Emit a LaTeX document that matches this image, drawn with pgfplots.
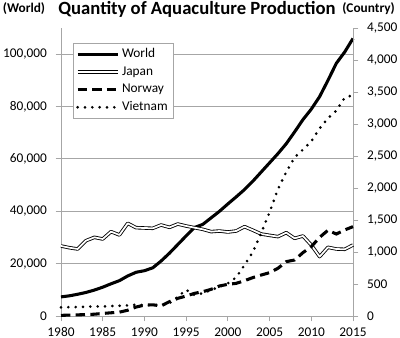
\documentclass[border=0pt]{standalone}
\usepackage{pgfplots}
\pgfplotsset{compat=1.18}
\usepackage{pgfplotstable}
\usepackage{fontspec}
\setmainfont{Carlito}
\definecolor{axgray}{HTML}{A6A6A6}
\pgfplotstableread{
year world
1980 7300
1981 7700
1982 8300
1983 9000
1984 9900
1985 11000
1986 12300
1987 13500
1988 15300
1989 16700
1990 17300
1991 18400
1992 21000
1993 24000
1994 27300
1995 30600
1996 33800
1997 35000
1998 37500
1999 40000
2000 42800
2001 45500
2002 48300
2003 51500
2004 55000
2005 58500
2006 62000
2007 65800
2008 70300
2009 75000
2010 79000
2011 83800
2012 90000
2013 96500
2014 100800
2015 106000
}\worlddata
\pgfplotstableread{
year japan norway vietnam
1980 1094 10 135
1981 1067 14 138
1982 1047 18 140
1983 1177 22 145
1984 1229 28 150
1985 1203 40 150
1986 1318 50 155
1987 1266 60 160
1988 1448 90 165
1989 1380 140 175
1990 1375 170 170
1991 1370 175 168
1992 1422 158 170
1993 1385 224 200
1994 1437 276 300
1995 1406 312 410
1996 1380 354 328
1997 1354 380 354
1998 1318 417 406
1999 1328 469 458
2000 1312 495 510
2001 1328 510 604
2002 1396 552 797
2003 1340 600 1000
2004 1281 640 1300
2005 1260 677 1620
2006 1240 745 1980
2007 1302 849 2250
2008 1213 875 2480
2009 1250 990 2600
2010 1109 1083 2730
2011 927 1229 2930
2012 1073 1340 3090
2013 1047 1281 3210
2014 1042 1344 3410
2015 1109 1396 3450
}\countrydata
\pgfplotsset{
  common/.style={
    at={(45.75pt,16.5pt)}, anchor=south west,
    scale only axis, width=219pt, height=216pt,
    xmin=1980, xmax=2015, ymin=0,
    axis line style={axgray, line width=0.7pt},
    tick style={axgray, line width=0.7pt},
    tick align=outside, major tick length=4pt,
    tick label style={font=\fontsize{10}{12}\selectfont},
    scaled y ticks=false,
    clip=false,
  },
  legend image code/.code={\draw[#1] (0pt,0pt) -- (30pt,0pt);},
}
\begin{document}
\begin{tikzpicture}[x=1pt,y=1pt]
\useasboundingbox (0,0) rectangle (300,253.5);
\begin{axis}[common,
  ymax=110000,
  axis x line*=bottom, axis y line*=left,
  xtick={1980,1985,1990,1995,2000,2005,2010,2015},
  xticklabels={1980,1985,1990,1995,2000,2005,2010,2015},
  ytick={0,20000,40000,60000,80000,100000},
  yticklabels={0,{20,000},{40,000},{60,000},{80,000},{100,000}},
  yticklabel style={xshift=-3pt},
  xticklabel style={yshift=-1pt},
  ymajorgrids, grid style={axgray, line width=0.7pt},
]
\addplot[black, line width=2.3pt, line join=round] table[x=year,y=world]{\worlddata};
\end{axis}
\begin{axis}[common,
  ymax=4500,
  axis x line=none, axis y line*=right,
  ytick={0,500,1000,1500,2000,2500,3000,3500,4000,4500},
  yticklabels={0,500,{1,000},{1,500},{2,000},{2,500},{3,000},{3,500},{4,000},{4,500}},
  yticklabel style={xshift=3pt},
  legend style={at={(0.041,0.948)}, anchor=north west, draw=axgray, fill=white,
    font=\fontsize{10}{12}\selectfont, row sep=1.2pt, inner sep=2pt,
    cells={anchor=west}},
]
\addlegendimage{black, line width=2.3pt}
\addlegendentry{World}
\addplot[black, line width=0.65pt, double=white, double distance=1.3pt, line join=round] table[x=year,y=japan]{\countrydata};
\addlegendentry{Japan}
\addplot[black, line width=2.3pt, dash pattern=on 7pt off 4pt] table[x=year,y=norway]{\countrydata};
\addlegendentry{Norway}
\addplot[black, line width=2.2pt, line cap=round, dash pattern=on 0pt off 5.5pt] table[x=year,y=vietnam]{\countrydata};
\addlegendentry{Vietnam}
\end{axis}
\node[font=\bfseries\fontsize{10}{12}\selectfont, anchor=base] at (18,243.75) {(World)};
\node[font=\bfseries\fontsize{14}{16}\selectfont, anchor=base] at (147.75,242.6) {Quantity of Aquaculture Production};
\node[font=\bfseries\fontsize{10}{12}\selectfont, anchor=base] at (276.4,243.75) {(Country)};
\end{tikzpicture}
\end{document}
